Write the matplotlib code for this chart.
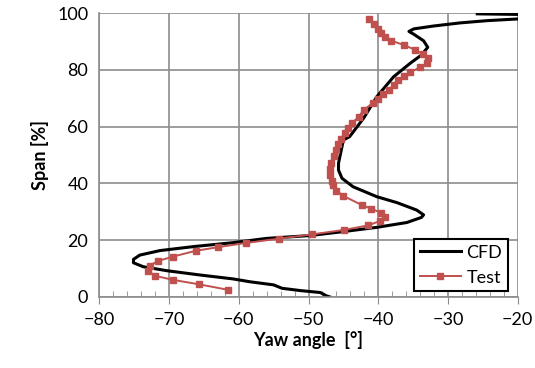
import matplotlib
matplotlib.use('Agg')
import matplotlib.pyplot as plt
from matplotlib.ticker import MultipleLocator

# CFD Profil (Spannweite aufsteigend)
cfd_yaw = [-47.0, -47.4, -48.3, -51.2, -53.8, -55.0, -58.4, -60.8, -65.6, -70.3,
           -73.7, -75.1, -75.1, -74.2, -71.3, -66.5, -60.8, -56.0, -49.8, -45.0,
           -40.2, -35.9, -33.8, -33.5, -34.5, -37.3, -40.2, -43.6, -45.2, -45.7,
           -45.7, -45.4, -45.0, -44.1, -42.1, -40.2, -37.8, -35.4, -33.8, -32.9,
           -33.5, -34.9, -35.6, -34.9, -32.1, -28.3, -24.4, -20.0, -14.0, -20.0, -25.8]
cfd_span = [0.0, 0.3, 1.5, 2.2, 3.0, 4.2, 5.3, 6.3, 7.7, 9.2,
            10.6, 12.0, 13.2, 14.7, 16.3, 17.7, 19.1, 20.6, 21.6, 23.0,
            24.5, 26.2, 28.0, 28.9, 30.6, 33.2, 35.3, 38.8, 41.8, 44.7,
            47.1, 50.6, 55.3, 56.5, 63.0, 70.6, 77.6, 82.4, 85.3, 88.0,
            90.3, 92.6, 93.6, 94.5, 95.5, 96.6, 97.4, 98.0, 99.0, 99.6, 99.8]

# Messung
test_yaw = [-61.6, -65.7, -69.5, -72.0, -73.0, -72.8, -71.6, -69.4, -66.2, -63.0,
            -58.9, -54.3, -49.5, -44.9, -41.4, -39.7, -39.1, -39.6, -41.0, -42.4,
            -45.0, -46.0, -46.5, -46.7, -46.9, -46.9, -46.8, -46.3, -46.0, -45.7,
            -45.3, -44.8, -44.3, -43.7, -42.8, -42.1, -40.7, -40.1, -39.3, -38.5,
            -37.8, -37.1, -36.3, -35.4, -34.0, -33.0, -32.9, -33.6, -34.7, -36.3,
            -38.1, -39.0, -39.6, -40.1, -40.6, -41.3]
test_span = [2.5, 4.4, 6.0, 7.4, 9.1, 11.0, 12.6, 14.2, 16.2, 17.5,
             19.0, 20.5, 22.0, 23.6, 25.2, 26.8, 28.0, 29.6, 31.1, 32.4,
             35.6, 37.4, 39.4, 41.0, 43.0, 45.0, 47.2, 49.7, 51.8, 53.9,
             55.6, 57.7, 59.5, 61.4, 63.5, 65.9, 68.5, 69.7, 71.4, 72.9,
             74.6, 76.4, 77.8, 79.3, 80.9, 82.4, 84.1, 85.6, 87.1, 88.8,
             90.3, 91.7, 93.2, 94.6, 96.2, 98.0]

plt.rcParams['font.family'] = ['Lato', 'DejaVu Sans']

fig = plt.figure(figsize=(5.35, 3.68), dpi=100)
ax = fig.add_axes([0.1856, 0.1935, 0.7821, 0.7704])

ax.plot(cfd_yaw, cfd_span, color='black', lw=2.2, label='CFD')
ax.plot(test_yaw, test_span, color='#C0504D', lw=1.4, marker='s', ms=4,
        label='Test')

ax.set_xlim(-80, -20)
ax.set_ylim(0, 100)
ax.xaxis.set_major_locator(MultipleLocator(10))
ax.xaxis.set_minor_locator(MultipleLocator(2))
ax.yaxis.set_major_locator(MultipleLocator(20))
ax.grid(True, which='major', color='#8c8c8c', lw=1.2)
ax.set_axisbelow(True)

for s in ['left', 'bottom']:
    ax.spines[s].set_color('#8c8c8c')
    ax.spines[s].set_linewidth(1.2)
for s in ['top', 'right']:
    ax.spines[s].set_visible(False)

ax.tick_params(axis='x', which='major', direction='out', length=5,
               color='#8c8c8c', labelsize=13, pad=6)
ax.tick_params(axis='x', which='minor', direction='in', length=4,
               color='#8c8c8c')
ax.tick_params(axis='y', length=0, labelsize=13, pad=8)

ax.set_xlabel('Yaw angle  [°]', fontsize=13, fontweight='bold', labelpad=2)
ax.set_ylabel('Span [%]', fontsize=13, fontweight='bold', labelpad=6)

leg = ax.legend(loc='lower right', bbox_to_anchor=(0.976, 0.02),
                borderaxespad=0, fontsize=13, fancybox=False,
                framealpha=1, handlelength=2.3, handletextpad=0.3,
                borderpad=0.3, labelspacing=0.5)
leg.get_frame().set_edgecolor('black')
leg.get_frame().set_linewidth(1.5)

fig.savefig('out.png', dpi=100)
